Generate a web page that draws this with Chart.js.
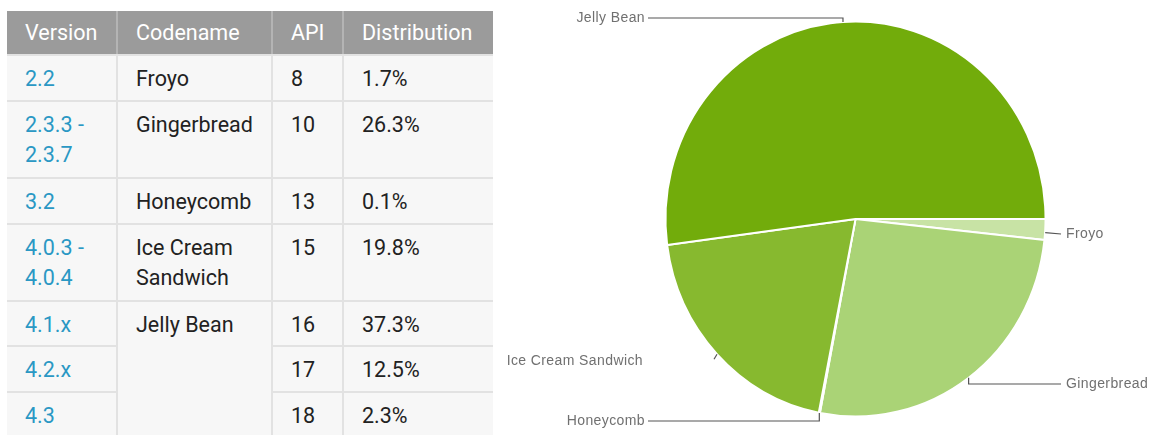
<!DOCTYPE html>
<html>
<head>
<meta charset="utf-8">
<script src="https://cdn.jsdelivr.net/npm/chart.js@4.4.1/dist/chart.umd.min.js"></script>
<style>
  html, body { margin: 0; padding: 0; background: #fff; }
  body { width: 1152px; height: 435px; position: relative; overflow: hidden; }
  #tbl {
    position: absolute; left: 7px; top: 11px;
    border-collapse: collapse; table-layout: fixed;
    font-family: Roboto, "Noto Sans", sans-serif; font-size: 21.5px;
    color: #222;
  }
  #tbl th {
    background: #9b9b9b; color: #fff; font-weight: 400; text-align: left;
    padding: 0 0 0 18px; height: 44px; box-sizing: border-box;
    border-left: 2px solid #b4b4b4; border-bottom: 2px solid #e2e2e2;
  }
  #tbl th:first-child { border-left: none; }
  #tbl td {
    background: #f7f7f7; vertical-align: top; text-align: left;
    padding: 8px 4px 0 18px; line-height: 30px; box-sizing: border-box;
    border: 2px solid #e2e2e2;
  }
  #tbl td:first-child { border-left: none; }
  #tbl td:last-child { border-right: none; }
  #tbl td.ver { color: #2a98c4; }
  #pie { position: absolute; left: 500px; top: 0; }
</style>
</head>
<body>
<table id="tbl">
  <colgroup><col style="width:110px"><col style="width:155px"><col style="width:71px"><col style="width:150px"></colgroup>
  <thead><tr id="head"></tr></thead>
  <tbody id="body"></tbody>
</table>
<canvas id="pie" width="652" height="435"></canvas>
<script>
// ---- table data ----
const headers = ['Version', 'Codename', 'API', 'Distribution'];
const versions = ['2.2', '2.3.3 -<br>2.3.7', '3.2', '4.0.3 -<br>4.0.4', '4.1.x', '4.2.x', '4.3'];
const codenames = ['Froyo', 'Gingerbread', 'Honeycomb', 'Ice Cream<br>Sandwich', 'Jelly Bean', null, null];
const codenameSpans = [1, 1, 1, 1, 3, 0, 0];
const apis = ['8', '10', '13', '15', '16', '17', '18'];
const distributions = ['1.7%', '26.3%', '0.1%', '19.8%', '37.3%', '12.5%', '2.3%'];
const rowHeights = [46, 77, 46, 77, 45, 46, 46];

// ---- pie data ----
const categories = ['Froyo', 'Gingerbread', 'Honeycomb', 'Ice Cream Sandwich', 'Jelly Bean'];
const shares = [1.7, 26.3, 0.1, 19.8, 52.1];
const sliceColors = ['#c8e3a5', '#aad376', '#9cc85a', '#87b92f', '#72ac0b'];

// build table
const head = document.getElementById('head');
headers.forEach(h => { const th = document.createElement('th'); th.textContent = h; head.appendChild(th); });
const body = document.getElementById('body');
versions.forEach((v, i) => {
  const tr = document.createElement('tr');
  tr.style.height = rowHeights[i] + 'px';
  let td = document.createElement('td'); td.className = 'ver'; td.innerHTML = v; tr.appendChild(td);
  if (codenameSpans[i] > 0) {
    td = document.createElement('td'); td.innerHTML = codenames[i]; td.rowSpan = codenameSpans[i]; tr.appendChild(td);
  }
  td = document.createElement('td'); td.textContent = apis[i]; tr.appendChild(td);
  td = document.createElement('td'); td.textContent = distributions[i]; tr.appendChild(td);
  body.appendChild(tr);
});

// label placement (layout only)
const labelLayout = {
  'Froyo':              { x: 566, y: 234, align: 'left',  route: 'h' },
  'Gingerbread':        { x: 566, y: 384, align: 'left',  route: 'vh' },
  'Honeycomb':          { x: 145, y: 421, align: 'right', route: 'vh' },
  'Ice Cream Sandwich': { x: 143, y: 361, align: 'right', route: 'tick' },
  'Jelly Bean':         { x: 145, y: 18,  align: 'right', route: 'vh' }
};
const SX = 0.962; // horizontal squeeze of the pie (slightly elliptical)

const ellipsePlugin = {
  id: 'ellipse',
  beforeDatasetsDraw(chart) {
    const a = chart.getDatasetMeta(0).data[0];
    const ctx = chart.ctx;
    ctx.save();
    ctx.translate(a.x, 0); ctx.scale(SX, 1); ctx.translate(-a.x, 0);
  },
  afterDatasetsDraw(chart) { chart.ctx.restore(); }
};

const leaderPlugin = {
  id: 'leaders',
  afterDraw(chart) {
    const ctx = chart.ctx;
    const meta = chart.getDatasetMeta(0);
    ctx.save();
    ctx.font = '14px "Liberation Sans", Arial, sans-serif';
    try { ctx.letterSpacing = '0.4px'; } catch (e) {}
    ctx.textBaseline = 'middle';
    meta.data.forEach((arc, i) => {
      const name = chart.data.labels[i];
      const L = labelLayout[name];
      const mid = (arc.startAngle + arc.endAngle) / 2;
      const r = arc.outerRadius;
      const ax = arc.x + Math.cos(mid) * r * SX;
      const ay = arc.y + Math.sin(mid) * r;
      const endX = L.align === 'left' ? L.x - 5 : L.x + 3;
      ctx.strokeStyle = '#555';
      ctx.lineWidth = 1.2;
      ctx.beginPath();
      if (L.route === 'h') {
        ctx.moveTo(ax, ay + 3); ctx.lineTo(endX, L.y);
      } else if (L.route === 'vh') {
        ctx.moveTo(ax, ay); ctx.lineTo(ax, L.y); ctx.lineTo(endX, L.y);
      } else {
        ctx.moveTo(ax, ay); ctx.lineTo(ax - 3, ay + 5);
      }
      ctx.stroke();
      ctx.fillStyle = '#707070';
      ctx.textAlign = L.align;
      ctx.fillText(name, L.x, L.y);
    });
    ctx.restore();
  }
};

new Chart(document.getElementById('pie'), {
  type: 'pie',
  data: {
    labels: categories,
    datasets: [{
      data: shares,
      backgroundColor: sliceColors,
      borderColor: '#ffffff',
      borderWidth: 2
    }]
  },
  options: {
    responsive: false,
    devicePixelRatio: 1,
    animation: false,
    events: [],
    rotation: 90,
    layout: { padding: { top: 20, bottom: 17, left: 157, right: 98 } },
    plugins: { legend: { display: false }, tooltip: { enabled: false } }
  },
  plugins: [ellipsePlugin, leaderPlugin]
});
</script>
</body>
</html>
